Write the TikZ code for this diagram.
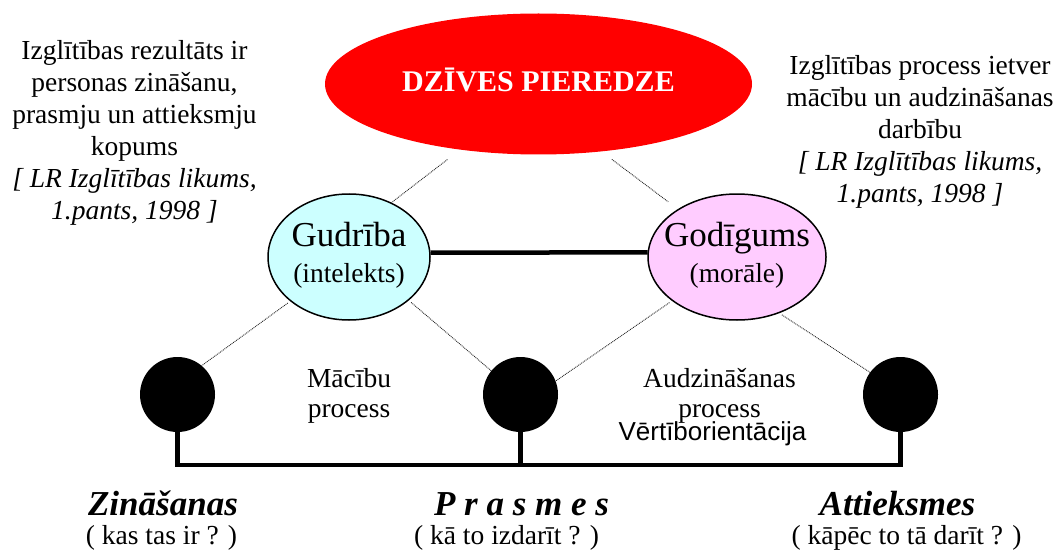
\documentclass[tikz,border=0pt]{standalone}
\usepackage{fontspec}
\setmainfont{Liberation Serif}
\newfontfamily\arialfont{Liberation Sans}
\usetikzlibrary{shapes.geometric}
\definecolor{lcyan}{HTML}{CCFFFF}
\definecolor{lpink}{HTML}{FFCCFF}
\definecolor{pred}{HTML}{FF0000}
\begin{document}
\begin{tikzpicture}[x=1pt,y=-1pt,
  bigell/.style={ellipse, inner sep=0pt, draw=black, line width=1.5pt},
  blackdot/.style={circle, fill=black, minimum size=75pt, inner sep=0pt},
  thickline/.style={line width=4.5pt},
  dotline/.style={line width=0.9pt, black!85, dash pattern=on 0.9pt off 0.9pt},
  txt/.style={inner sep=0pt, anchor=base, font=\fontsize{27.5}{32}\selectfont},
  bigtxt/.style={inner sep=0pt, anchor=base, font=\fontsize{35}{40}\selectfont\bfseries\itshape}
]
\useasboundingbox (0,0) rectangle (1059,556);

% top ellipse
\node[ellipse, inner sep=0pt, fill=pred, minimum width=427pt, minimum height=141pt,
      text=white, font=\fontsize{30}{34}\selectfont\bfseries,
      text height=24pt, text depth=8pt] (red) at (538.5,84) {DZĪVES PIEREDZE\hspace{16pt}};

% middle ellipses
\node[bigell, fill=lcyan, minimum width=162pt, minimum height=126pt] (gud) at (349,257)
  {\makebox[0pt]{\fontsize{35}{36}\selectfont\begin{tabular}{@{}c@{}}Gudrība\\ {\fontsize{27.5}{36}\selectfont (intelekts)}\end{tabular}}};
\node[bigell, fill=lpink, minimum width=178pt, minimum height=126pt] (god) at (737,257)
  {\makebox[0pt]{\fontsize{35}{36}\selectfont\begin{tabular}{@{}c@{}}Godīgums\\ {\fontsize{27.5}{36}\selectfont (morāle)}\end{tabular}}};

% black dots
\node[blackdot] (zin) at (177.5,394.5) {};
\node[blackdot] (pra) at (520.5,394.5) {};
\node[blackdot] (att) at (900.5,394.5) {};

% dotted connectors
\draw[dotline, shorten <=16pt] (red.220) -- (gud.52);
\draw[dotline, shorten <=13pt, shorten >=12pt] (red.313) -- (god.141);
\draw[dotline, shorten <=3pt] (gud.217) -- (zin.50);
\draw[dotline, shorten <=3pt] (gud.324) -- (pra.141);
\draw[dotline, shorten <=3pt] (god.214) -- (pra.21);
\draw[dotline, shorten <=3pt] (god.307) -- (att.144);

% thick connectors
\draw[thickline] (gud.3) -- (god.177);
\coordinate (bl) at (177.5,465);
\coordinate (br) at (900.5,465);
\draw[thickline] (zin.south) -- (bl) -- (br) -- (att.south);
\draw[thickline] (pra.south) -- (pra.south |- bl);

% side texts
\node[txt] (lefttxt) at (134.5,60) {\begin{tabular}[t]{@{}c@{}}Izglītības rezultāts ir\\ personas zināšanu,\\ prasmju un attieksmju\\ kopums\\ \itshape [ LR Izglītības likums,\\ \itshape 1.pants, 1998 ]\end{tabular}};
\node[txt] (righttxt) at (920,75) {\begin{tabular}[t]{@{}c@{}}Izglītības process ietver\\ mācību un audzināšanas\\ darbību\\ \itshape [ LR Izglītības likums,\\ \itshape 1.pants, 1998 ]\end{tabular}};

% process texts
\node[txt, font=\fontsize{27.5}{30}\selectfont] (maciba) at (349,387) {\begin{tabular}[t]{@{}c@{}}Mācību\\ process\end{tabular}};
\node[txt, font=\fontsize{27.5}{30.5}\selectfont] (audz) at (719.5,387) {\begin{tabular}[t]{@{}c@{}}Audzināšanas\\ process\end{tabular}};
\node[inner sep=0pt, anchor=base, font=\arialfont\fontsize{26}{30}\selectfont] (vert) at (712.5,440) {Vērtīborientācija};

% bottom labels
\node[bigtxt] (zinl) at (163,515) {Zināšanas};
\node[txt] (zinq) at (161.5,544) {( kas tas ir ? )};
\node[bigtxt] (pral) at (521.5,515) {P r a s m e s};
\node[txt] (praq) at (506.5,544) {( kā to izdarīt ? )};
\node[bigtxt] (attl) at (897.5,515) {Attieksmes};
\node[txt] (attq) at (906.5,544) {( kāpēc to tā darīt ? )};
\end{tikzpicture}
\end{document}
